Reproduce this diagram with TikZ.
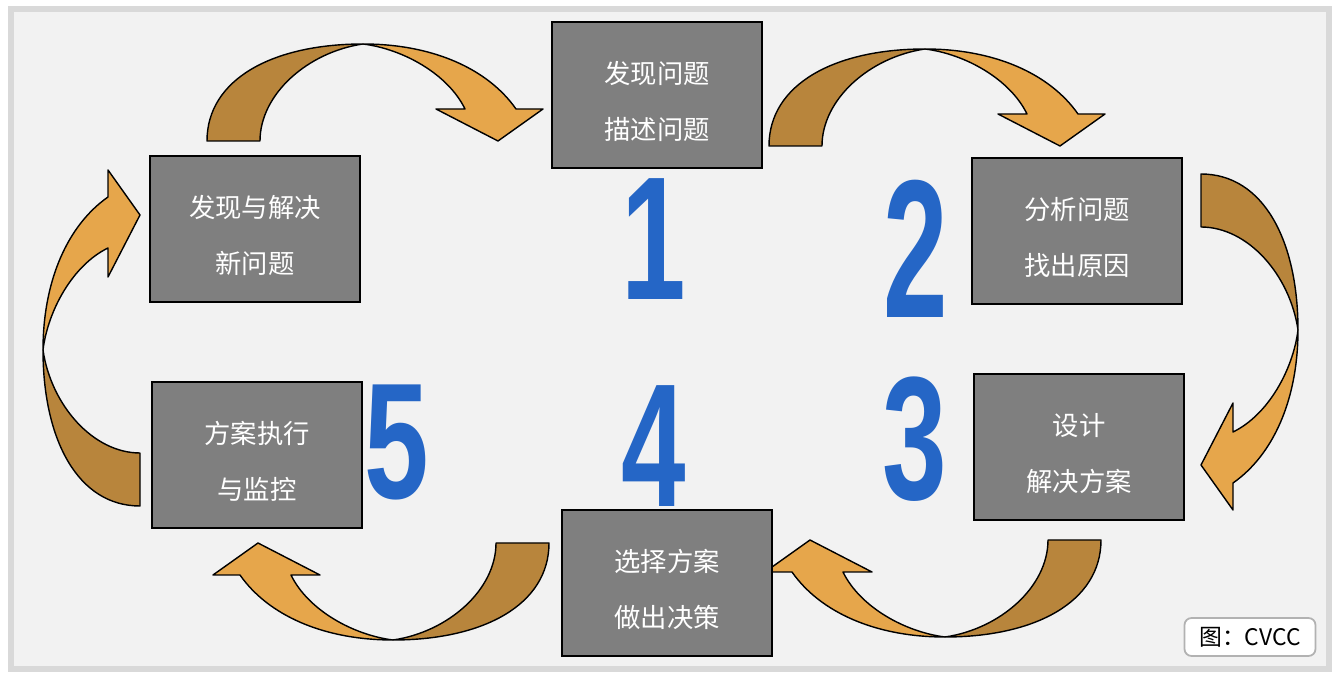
\documentclass[tikz,border=0pt]{standalone}
\usepackage{fontspec}
\usepackage{graphicx}
\usepackage{tikz}
\usetikzlibrary{positioning}
\newfontfamily\cjk{Noto Sans CJK SC}
\newfontfamily\numfont{Liberation Sans}
\definecolor{framegray}{HTML}{D9D9D9}
\definecolor{panelgray}{HTML}{F2F2F2}
\definecolor{boxgray}{HTML}{7F7F7F}
\definecolor{stepblue}{HTML}{2566C6}
\definecolor{arrowdark}{HTML}{B8853C}
\definecolor{arrowlight}{HTML}{E6A64B}
% big condensed step numbers
\newcommand{\bignum}[2][1]{\scalebox{0.66}[#1]{\numfont\bfseries\fontsize{100}{100}\selectfont #2}}
% pushes the two text lines a little below the box centre
\newcommand{\topgap}{\rule{0pt}{20pt}}
\tikzset{
  % grey step boxes
  stepbox/.style={rectangle, draw=black, line width=1.2pt, fill=boxgray,
                  minimum width=4.2cm, minimum height=2.92cm,
                  font=\cjk\fontsize{15}{32}\selectfont, text=white, align=center},
  % blue numbers
  stepnum/.style={text=stepblue, inner sep=0pt},
  % source label
  credit/.style={rectangle, draw=black!30, line width=1pt, fill=white,
                 rounded corners=4pt, minimum width=2.62cm, minimum height=0.76cm,
                 font=\cjk\fontsize{13}{15}\selectfont},
  % curved block arrow, drawn bending down to the right
  carrow/.pic={
    \filldraw[fill=arrowdark, draw=black, line width=0.8pt, line join=round]
      (-156,97) .. controls (-156,35) and (-90,0) .. (0,0)
      .. controls (-55,8) and (-103,50) .. (-103,97) -- cycle;
    \filldraw[fill=arrowlight, draw=black, line width=0.8pt, line join=round]
      (0,0) .. controls (70,0) and (125,25) .. (153,65)
      -- (180,65) -- (135,97) -- (73,65) -- (102,65)
      .. controls (85,30) and (40,5) .. (0,0) -- cycle;
  },
}
\begin{document}
\begin{tikzpicture}[x=0.02cm, y=-0.02cm]

\useasboundingbox (0,0) rectangle (1340,678);
\fill[white] (0,0) rectangle (1340,678);
\fill[framegray] (8,6) rectangle (1332,672);
\fill[panelgray] (14,12) rectangle (1326,666);

% ── Curved arrows ────────────────────────────────────────────────────────────
\pic (arrA)              at (363,44)  {carrow};
\pic (arrB)              at (925,49)  {carrow};
\pic[rotate=-90] (arrC)  at (1298,330) {carrow};
\pic[rotate=180] (arrD)  at (945,637) {carrow};
\pic[rotate=180] (arrE)  at (393,640) {carrow};
\pic[rotate=90]  (arrF)  at (43,350)  {carrow};

% ── Steps ────────────────────────────────────────────────────────────────────
\node[stepbox] (find)    at (657,95)  {\topgap 发现问题\\描述问题};
\node[stepbox] (analyse) at (1077,231) {\topgap 分析问题\\找出原因};
\node[stepbox] (design)  at (1079,447) {\topgap 设计\\解决方案};
\node[stepbox] (choose)  at (667,583) {\topgap 选择方案\\做出决策};
\node[stepbox] (execute) at (257,455) {\topgap 方案执行\\与监控};
\node[stepbox] (renew)   at (255,229) {\topgap 发现与解决\\新问题};

% ── Numbers ──────────────────────────────────────────────────────────────────
\node[stepnum] (n1) at (654,239) {\bignum{1}};
\node[stepnum] (n2) at (916,249) {\bignum[1.12]{2}};
\node[stepnum] (n3) at (915,439) {\bignum{3}};
\node[stepnum] (n4) at (654,446) {\bignum{4}};
\node[stepnum] (n5) at (397,442) {\bignum[0.94]{5}};

% ── Source ───────────────────────────────────────────────────────────────────
\node[credit] (src) at (1250,637) {图：CVCC};

\end{tikzpicture}
\end{document}
